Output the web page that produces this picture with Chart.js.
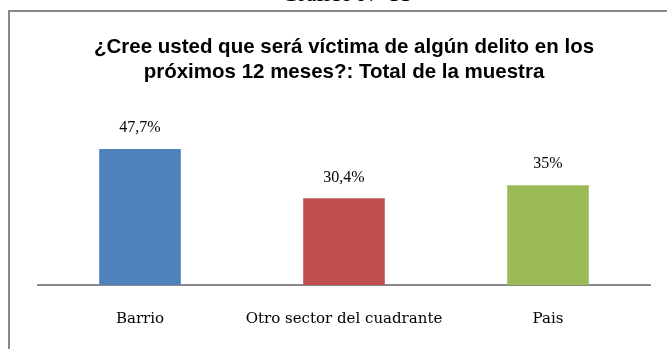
<!DOCTYPE html>
<html>
<head>
<meta charset="utf-8">
<script src="https://cdn.jsdelivr.net/npm/chart.js@4"></script>
<style>
  html, body { margin: 0; padding: 0; background: #fff; overflow: hidden; }
  #page { position: relative; width: 667px; height: 349px; }
  #caption {
    position: absolute; left: 0; width: 694px; top: -18px;
    text-align: center; font: 23px "Liberation Serif", serif; color: #000;
    line-height: 23px;
  }
  #frame {
    position: absolute; left: 8px; top: 10px; width: 720px; height: 400px;
    border: 2px solid #888;
  }
  #wrap { position: absolute; left: 0; top: 0; width: 667px; height: 349px; }
</style>
</head>
<body>
<div id="page">
  <div id="caption">Gráfico N° 33</div>
  <div id="frame"></div>
  <div id="wrap"><canvas id="chart"></canvas></div>
</div>
<script>
// categories and values (percent of respondents)
const categories = ['Barrio', 'Otro sector del cuadrante', 'Pais'];
const values = [47.7, 30.4, 35];
const barColors = ['#4F81BD', '#C0504D', '#9BBB59'];
const titleLines = ['¿Cree usted que será víctima de algún delito en los', 'próximos 12 meses?: Total de la muestra'];

function fmt(v) {
  return String(v).replace('.', ',') + '%';
}

// value labels above each bar
const barLabels = {
  id: 'barLabels',
  afterDatasetsDraw(chart) {
    const ctx = chart.ctx;
    const meta = chart.getDatasetMeta(0);
    ctx.save();
    ctx.fillStyle = '#000';
    ctx.font = '16px "Liberation Serif", serif';
    ctx.textAlign = 'center';
    ctx.textBaseline = 'middle';
    meta.data.forEach((bar, i) => {
      ctx.fillText(fmt(values[i]), bar.x, bar.y - 21);
    });
    ctx.restore();
  }
};

new Chart(document.getElementById('chart'), {
  type: 'bar',
  data: {
    labels: categories,
    datasets: [{
      data: values,
      backgroundColor: barColors,
      borderWidth: 0,
      categoryPercentage: 1,
      barPercentage: 0.4
    }]
  },
  options: {
    responsive: true,
    maintainAspectRatio: false,
    animation: false,
    layout: { padding: { left: 38, right: 17, top: 0, bottom: -4 } },
    plugins: {
      legend: { display: false },
      tooltip: { enabled: false },
      title: {
        display: true,
        text: titleLines,
        color: '#000',
        font: { family: '"Liberation Sans Narrow", "Liberation Sans", sans-serif', size: 20.5, weight: 'bold', lineHeight: 1.22 },
        padding: { top: 35, bottom: 29 }
      }
    },
    scales: {
      x: {
        grid: { display: false, drawTicks: false },
        border: { display: true, color: '#888', width: 2 },
        ticks: {
          color: '#000',
          padding: 25,
          maxRotation: 0,
          minRotation: 0,
          autoSkip: false,
          font: { family: '"DejaVu Serif", serif', size: 15, lineHeight: 1.2 }
        }
      },
      y: {
        display: false,
        min: 0,
        max: 60
      }
    }
  },
  plugins: [barLabels]
});
</script>
</body>
</html>
